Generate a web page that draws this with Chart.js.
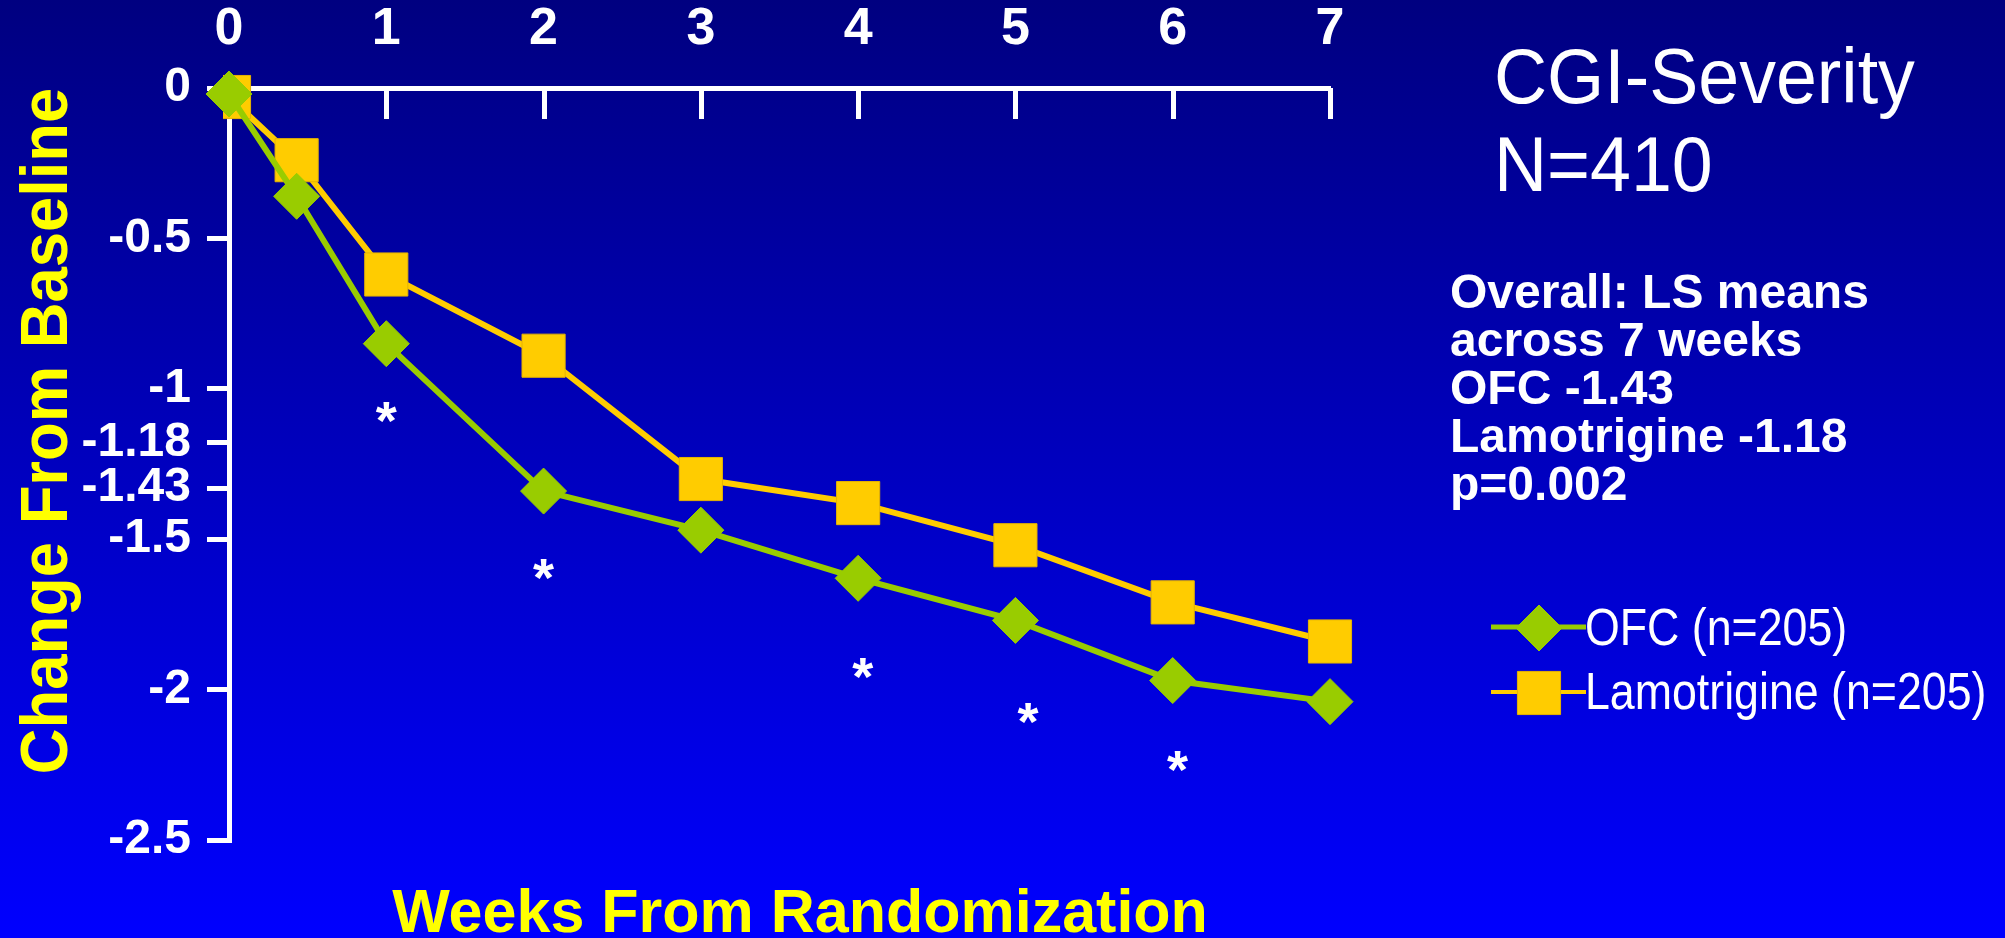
<!DOCTYPE html>
<html>
<head>
<meta charset="utf-8">
<title>CGI-Severity: Change From Baseline</title>
<script src="https://cdn.jsdelivr.net/npm/chart.js@4.4.1/dist/chart.umd.min.js"></script>
<style>
  html, body { margin: 0; padding: 0; background: #000080; overflow: hidden; }
  #wrap { width: 2005px; height: 938px; }
  canvas { display: block; }
</style>
</head>
<body>
<div id="wrap"><canvas id="chart" width="2005" height="938"></canvas></div>
<script>
// Visit times in weeks (the first post-baseline visit is day 3)
const weeks = [0, 0.43, 1, 2, 3, 4, 5, 6, 7];
// LS mean change from baseline in CGI-Severity score
const ofcChange = [-0.02, -0.36, -0.85, -1.34, -1.47, -1.63, -1.77, -1.97, -2.04];
const lamotrigineChange = [-0.03, -0.24, -0.62, -0.89, -1.30, -1.38, -1.52, -1.71, -1.84];

// Axis ticks. The -1.43 marker sits just above -1.5 so both labels stay readable.
const xTickValues = [0, 1, 2, 3, 4, 5, 6, 7];
const yTickValues = [0, -0.5, -1, -1.18, -1.33, -1.5, -2, -2.5];
const yTickLabels = ['0', '-0.5', '-1', '-1.18', '-1.43', '-1.5', '-2', '-2.5'];

// Significant between-group differences: where each asterisk is placed (week, score level)
const sigMarkWeek = [1, 2, 4.03, 5.08, 6.03];
const sigMarkLevel = [-1.08, -1.6, -1.93, -2.08, -2.24];

const seriesNames = ['OFC (n=205)', 'Lamotrigine (n=205)'];
const headingLines = ['CGI-Severity', 'N=410'];
const summaryLines = ['Overall: LS means', 'across 7 weeks', 'OFC -1.43', 'Lamotrigine -1.18', 'p=0.002'];
const xTitle = 'Weeks From Randomization';
const yTitle = 'Change From Baseline';

const FONT = "'Liberation Sans', Arial, Helvetica, sans-serif";
const GREEN = '#99CC00';
const GOLD = '#FFCC00';
const GOLD_EDGE = '#E6B400';
const YELLOW = '#FFFF00';
const WHITE = '#FFFFFF';

function drawText(ctx, str, x, y, font, color, sx, align) {
  ctx.save();
  ctx.font = font;
  ctx.fillStyle = color;
  ctx.textAlign = align || 'left';
  ctx.textBaseline = 'alphabetic';
  ctx.translate(x, y);
  ctx.scale(sx || 1, 1);
  ctx.fillText(str, 0, 0);
  ctx.restore();
}

function drawMarker(ctx, style, radius, x, y, fill, edge) {
  ctx.save();
  ctx.fillStyle = fill;
  ctx.strokeStyle = edge;
  ctx.lineWidth = 1;
  Chart.helpers.drawPoint(ctx, { pointStyle: style, rotation: 0, radius: radius, borderWidth: 1 }, x, y);
  ctx.restore();
}

const slidePlugin = {
  id: 'slide',
  beforeDraw(chart) {
    const { ctx, width, height } = chart;
    const g = ctx.createLinearGradient(0, 0, 0, height);
    g.addColorStop(0, '#000080');
    g.addColorStop(1, '#0000FF');
    ctx.save();
    ctx.fillStyle = g;
    ctx.fillRect(0, 0, width, height);
    ctx.restore();
  },
  beforeDatasetsDraw(chart) {
    // week ticks hang down from the top axis into the plot
    const { ctx, chartArea, scales: { x } } = chart;
    ctx.save();
    ctx.strokeStyle = WHITE;
    ctx.lineWidth = 5;
    ctx.lineCap = 'butt';
    xTickValues.forEach(v => {
      if (v === 0) return;
      const px = Math.round(x.getPixelForValue(v)) + 0.5;
      ctx.beginPath();
      ctx.moveTo(px, chartArea.top);
      ctx.lineTo(px, chartArea.top + 31);
      ctx.stroke();
    });
    ctx.restore();
  },
  afterDatasetsDraw(chart) {
    const { ctx, scales: { x, y } } = chart;
    ctx.save();
    ctx.font = 'bold 54px ' + FONT;
    ctx.fillStyle = WHITE;
    ctx.textAlign = 'center';
    ctx.textBaseline = 'alphabetic';
    const m = ctx.measureText('*');
    const shift = (m.actualBoundingBoxAscent - m.actualBoundingBoxDescent) / 2;
    sigMarkWeek.forEach((w, i) => {
      ctx.fillText('*', x.getPixelForValue(w), y.getPixelForValue(sigMarkLevel[i]) + shift);
    });
    ctx.restore();
  },
  afterDraw(chart) {
    const { ctx, chartArea } = chart;

    // axis titles
    ctx.save();
    ctx.translate(67, (chartArea.top + chartArea.bottom) / 2 - 33);
    ctx.rotate(-Math.PI / 2);
    ctx.scale(0.96, 1);
    ctx.font = 'bold 66px ' + FONT;
    ctx.fillStyle = YELLOW;
    ctx.textAlign = 'center';
    ctx.textBaseline = 'alphabetic';
    ctx.fillText(yTitle, 0, 0);
    ctx.restore();
    drawText(ctx, xTitle, 800, 932, 'bold 61px ' + FONT, YELLOW, 1, 'center');

    // heading
    drawText(ctx, headingLines[0], 1494, 103, '77px ' + FONT, WHITE, 0.955);
    drawText(ctx, headingLines[1], 1494, 191, '77px ' + FONT, WHITE, 0.955);

    // overall summary
    summaryLines.forEach((line, i) => {
      drawText(ctx, line, 1450, 308 + i * 48, 'bold 48px ' + FONT, WHITE, 1);
    });

    // legend
    const rows = [
      { y: 627, color: GREEN, edge: GREEN, style: 'rectRot', r: 23, lw: 5, text: seriesNames[0], base: 645 },
      { y: 692, color: GOLD, edge: GOLD_EDGE, style: 'rect', r: 30.5, lw: 4, text: seriesNames[1], base: 709 }
    ];
    rows.forEach(row => {
      ctx.save();
      ctx.strokeStyle = row.color;
      ctx.lineWidth = row.lw;
      ctx.beginPath();
      ctx.moveTo(1491, row.y);
      ctx.lineTo(1586, row.y);
      ctx.stroke();
      ctx.restore();
      drawMarker(ctx, row.style, row.r, 1539, row.y + 1, row.color, row.edge);
      drawText(ctx, row.text, 1585, row.base, '52px ' + FONT, WHITE, 0.86);
    });
  }
};

const toPoints = values => weeks.map((w, i) => ({ x: w, y: values[i] }));

new Chart(document.getElementById('chart'), {
  type: 'line',
  data: {
    datasets: [
      {
        label: seriesNames[0],
        data: toPoints(ofcChange),
        borderColor: GREEN,
        backgroundColor: GREEN,
        borderWidth: 6,
        pointStyle: 'rectRot',
        pointRadius: 23,
        pointHoverRadius: 23,
        pointBackgroundColor: GREEN,
        pointBorderColor: GREEN,
        pointBorderWidth: 1,
        tension: 0,
        clip: false
      },
      {
        label: seriesNames[1],
        data: toPoints(lamotrigineChange),
        borderColor: GOLD,
        backgroundColor: GOLD,
        borderWidth: 6,
        pointStyle: 'rect',
        pointRadius: 30.5,
        pointHoverRadius: 30.5,
        pointBackgroundColor: GOLD,
        pointBorderColor: GOLD_EDGE,
        pointBorderWidth: 1,
        tension: 0,
        // the baseline square is trimmed just left of the value axis
        clip: { left: 6, top: false, right: false, bottom: false }
      }
    ]
  },
  options: {
    responsive: false,
    animation: false,
    devicePixelRatio: 1,
    events: [],
    layout: { padding: { left: 0, top: 0, right: 675, bottom: 98 } },
    plugins: {
      legend: { display: false },
      title: { display: false },
      tooltip: { enabled: false }
    },
    scales: {
      x: {
        type: 'linear',
        position: 'top',
        min: 0,
        max: 7,
        afterBuildTicks: s => { s.ticks = xTickValues.map(v => ({ value: v })); },
        afterFit: s => { s.height = 88; },
        grid: { display: false, drawTicks: false, drawOnChartArea: false },
        border: { display: true, color: WHITE, width: 5 },
        ticks: {
          color: WHITE,
          font: { family: FONT, size: 52, weight: 'bold' },
          padding: 27,
          maxRotation: 0,
          autoSkip: false,
          callback: v => String(v)
        }
      },
      y: {
        type: 'linear',
        min: -2.5,
        max: 0,
        afterBuildTicks: s => { s.ticks = yTickValues.map(v => ({ value: v })); },
        afterFit: s => { s.width = 229; },
        grid: { display: true, drawOnChartArea: false, drawTicks: true, tickLength: 22, color: WHITE, lineWidth: 5 },
        border: { display: true, color: WHITE, width: 5 },
        ticks: {
          color: WHITE,
          font: { family: FONT, size: 48, weight: 'bold' },
          padding: 16,
          autoSkip: false,
          callback: v => {
            const i = yTickValues.indexOf(v);
            return i >= 0 ? yTickLabels[i] : '';
          }
        }
      }
    }
  },
  plugins: [slidePlugin]
});
</script>
</body>
</html>
